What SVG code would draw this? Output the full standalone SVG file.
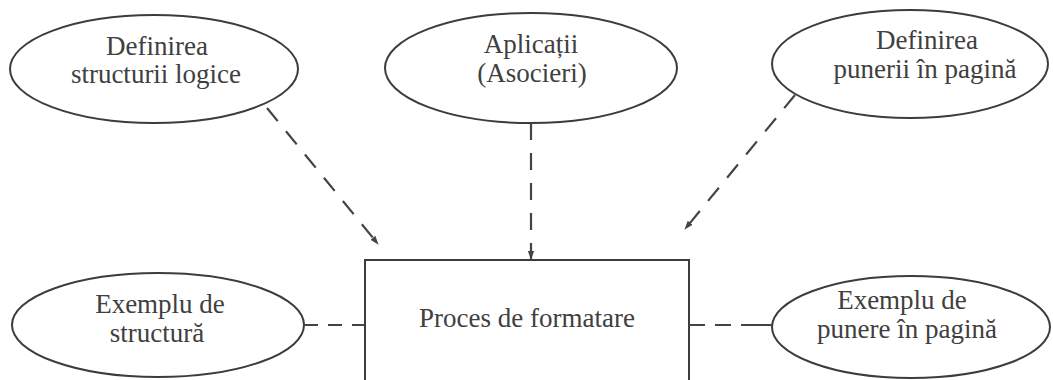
<svg xmlns="http://www.w3.org/2000/svg" width="1053" height="380" viewBox="0 0 1053 380">
<style>
.shape{fill:none;stroke:#3c3c3c;stroke-width:2}
.lbl{font-family:"Liberation Serif","Times New Roman",serif;font-size:27px;fill:#404040;text-anchor:middle}
.dash{fill:none;stroke:#444;stroke-width:2.2;stroke-dasharray:17 13}
</style>
<defs>
<marker id="arr" viewBox="0 0 10 10" refX="9" refY="5" markerWidth="9" markerHeight="9" markerUnits="userSpaceOnUse" orient="auto">
<path d="M0,1.5 L10,5 L0,8.5 Z" fill="#444"/>
</marker>
</defs>
<rect width="1053" height="380" fill="#fff"/>
<g id="n-def-struct">
<ellipse class="shape" cx="154" cy="69" rx="144" ry="54"/>
<text class="lbl" x="157" y="55">Definirea</text>
<text class="lbl" x="156" y="83">structurii logice</text>
</g>
<g id="n-aplicatii">
<ellipse class="shape" cx="531" cy="68" rx="146" ry="55"/>
<text class="lbl" x="531" y="53">Aplicații</text>
<text class="lbl" x="532" y="82">(Asocieri)</text>
</g>
<g id="n-def-punere">
<ellipse class="shape" cx="910" cy="64" rx="138" ry="54"/>
<text class="lbl" x="927" y="49">Definirea</text>
<text class="lbl" x="925" y="78">punerii în pagină</text>
</g>
<g id="n-proces">
<rect class="shape" x="365" y="260" width="324" height="140"/>
<text class="lbl" x="527" y="327">Proces de formatare</text>
</g>
<g id="n-ex-struct">
<ellipse class="shape" cx="158" cy="325" rx="146" ry="52"/>
<text class="lbl" x="160" y="313">Exemplu de</text>
<text class="lbl" x="157" y="342">structură</text>
</g>
<g id="n-ex-punere">
<ellipse class="shape" cx="911" cy="327" rx="139" ry="51"/>
<text class="lbl" x="902" y="309">Exemplu de</text>
<text class="lbl" x="907" y="338">punere în pagină</text>
</g>
<g id="connectors">
<path class="dash" d="M267,108 L378,244" marker-end="url(#arr)"/>
<path class="dash" d="M531,123 L531,259" marker-end="url(#arr)"/>
<path class="dash" d="M795,95 L685,229" marker-end="url(#arr)"/>
<path class="dash" style="stroke-dasharray:14 10 14 10 13 100" d="M304,325 L365,325"/>
<path class="dash" style="stroke-dasharray:16 10 16 10 31 100" d="M689,325 L772,325"/>
</g>
</svg>
